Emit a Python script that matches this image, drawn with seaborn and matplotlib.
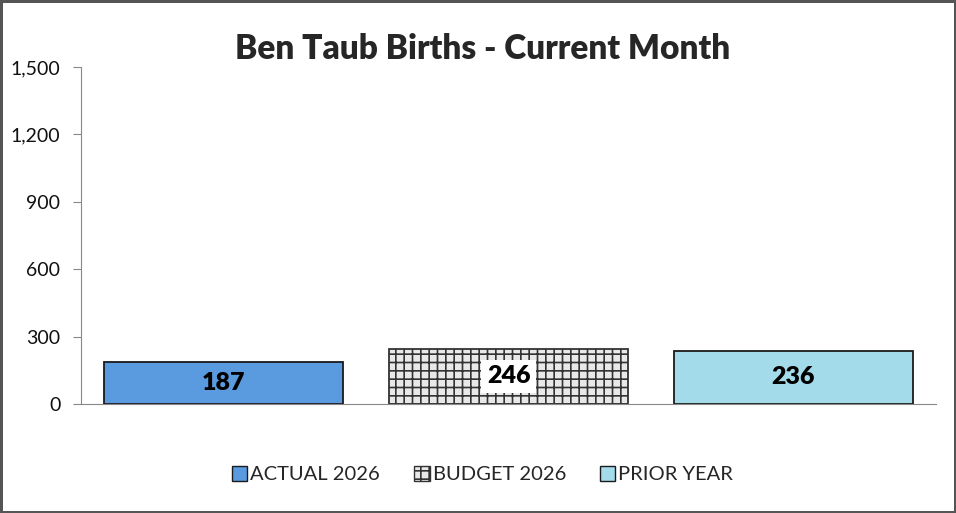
import pandas as pd
import matplotlib.pyplot as plt
import seaborn as sns
from matplotlib.patches import Patch

categories = ["ACTUAL 2026", "BUDGET 2026", "PRIOR YEAR"]
births = [187, 246, 236]
colors = ["#5a9be0", "#e8e8e8", "#a3dbeb"]
yticks = [0, 300, 600, 900, 1200, 1500]

df = pd.DataFrame({"series": categories, "births": births})

sns.set_style("white")
plt.rcParams["font.family"] = ["Lato", "DejaVu Sans"]
plt.rcParams["hatch.color"] = "#444444"
plt.rcParams["hatch.linewidth"] = 1.2

fig = plt.figure(figsize=(9.56, 5.13), dpi=100)
fig.patch.set_edgecolor("#555555")
fig.patch.set_linewidth(2.5)
ax = fig.add_axes([0.085, 0.2125, 0.894, 0.657])

sns.barplot(data=df, x="series", y="births", hue="series", palette=colors,
            saturation=1, width=0.84, edgecolor="#1a1a1a", linewidth=1.3,
            legend=False, ax=ax)

budget_bar = ax.patches[1]
budget_bar.set_hatch("++")
budget_bar.set_edgecolor("#333333")

for i, (bar, val) in enumerate(zip(ax.patches, births)):
    x = bar.get_x() + bar.get_width() / 2
    box = dict(facecolor="white", edgecolor="none", pad=4) if i == 1 else None
    ax.text(x, val / 2, f"{val}", ha="center", va="center", fontsize=18,
            fontweight="heavy", color="black", bbox=box)

ax.set_ylim(0, 1500)
ax.set_yticks(yticks)
ax.set_yticklabels([f"{v:,}" for v in yticks], fontsize=14, color="#111111")
ax.set_xticks([])
ax.set_xlabel("")
ax.set_ylabel("")
ax.set_xlim(-0.5, 2.5)
ax.tick_params(axis="y", length=6, color="#888888", direction="out", left=True, pad=9)
for s in ["top", "right"]:
    ax.spines[s].set_visible(False)
ax.spines["left"].set_color("#888888")
ax.spines["bottom"].set_color("#888888")

fig.text(0.505, 0.905, "Ben Taub Births - Current Month", ha="center", va="center",
         fontsize=24, fontweight="heavy")

handles = [Patch(facecolor=colors[0], edgecolor="#1a1a1a"),
           Patch(facecolor=colors[1], edgecolor="#333333", hatch="++"),
           Patch(facecolor=colors[2], edgecolor="#1a1a1a")]
fig.legend(handles, categories, loc="center", bbox_to_anchor=(0.505, 0.075), ncol=3,
           frameon=False, fontsize=14.5, handlelength=0.75, handleheight=0.75,
           handletextpad=0.15, columnspacing=1.7)

fig.savefig("out.png", dpi=100, edgecolor=fig.get_edgecolor())
